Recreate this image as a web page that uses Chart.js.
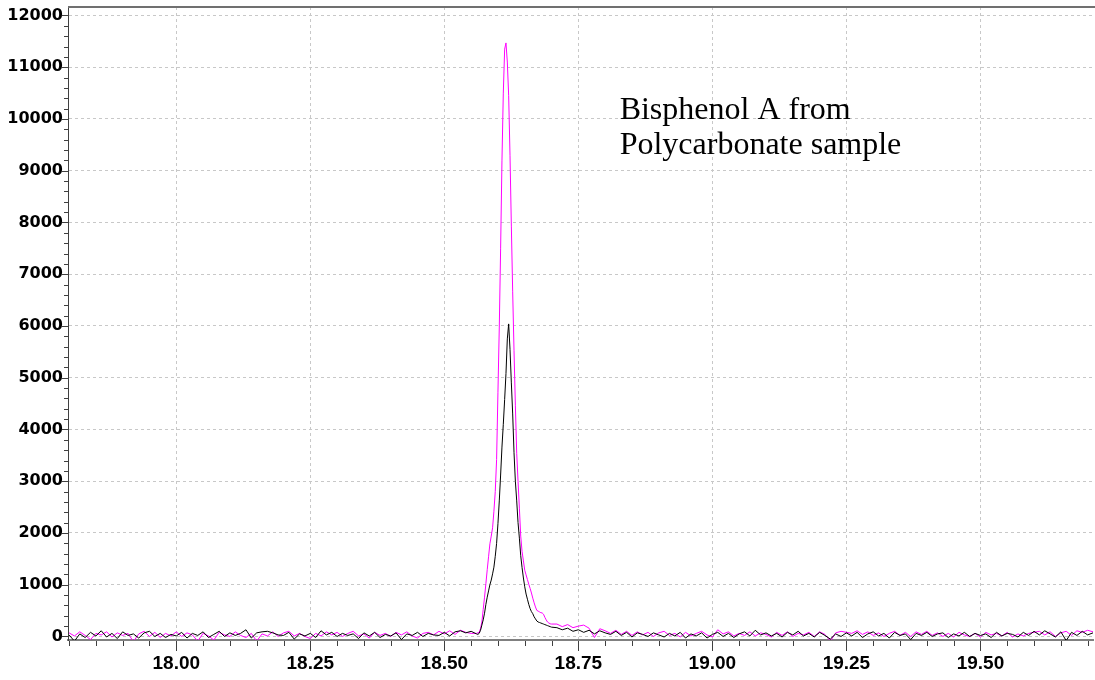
<!DOCTYPE html>
<html>
<head>
<meta charset="utf-8">
<title>Bisphenol A chromatogram</title>
<script src="https://cdn.jsdelivr.net/npm/chart.js@4.4.0/dist/chart.umd.min.js"></script>
<style>
  html, body { margin: 0; padding: 0; background: #fff; }
  canvas { display: block; }
</style>
</head>
<body>
<canvas id="chrom" width="1095" height="680"></canvas>
<script>
// retention times (min)
const times = [
  17.80, 17.81, 17.82, 17.83, 17.84, 17.85, 17.86, 17.87, 17.88, 17.89,
  17.90, 17.91, 17.92, 17.93, 17.94, 17.95, 17.96, 17.97, 17.98, 17.99,
  18.00, 18.01, 18.02, 18.03, 18.04, 18.05, 18.06, 18.07, 18.08, 18.09,
  18.10, 18.11, 18.12, 18.13, 18.14, 18.15, 18.16, 18.17, 18.18, 18.19,
  18.20, 18.21, 18.22, 18.23, 18.24, 18.25, 18.26, 18.27, 18.28, 18.29,
  18.30, 18.31, 18.32, 18.33, 18.34, 18.35, 18.36, 18.37, 18.38, 18.39,
  18.40, 18.41, 18.42, 18.43, 18.44, 18.45, 18.46, 18.47, 18.48, 18.49,
  18.50, 18.51, 18.52, 18.53, 18.54, 18.55,
  // peak region, finer
  18.5600, 18.5625, 18.5650, 18.5675, 18.5700, 18.5725, 18.5750, 18.5775, 18.5800, 18.5825,
  18.5850, 18.5875, 18.5900, 18.5925, 18.5950, 18.5975, 18.6000, 18.6025, 18.6050, 18.6075,
  18.6100, 18.6125, 18.6150, 18.6175, 18.6200, 18.6225, 18.6250, 18.6275, 18.6300, 18.6325,
  18.6350, 18.6375, 18.6400, 18.6425, 18.6450, 18.6475, 18.6500, 18.6525, 18.6550, 18.6575,
  18.6600, 18.6625, 18.6650, 18.6675, 18.6700, 18.6725, 18.6750, 18.6775, 18.6800, 18.6825,
  18.6850, 18.6875, 18.6900, 18.6925, 18.6950, 18.6975, 18.7000,
  18.71, 18.72, 18.73, 18.74, 18.75, 18.76, 18.77, 18.78, 18.79, 18.80,
  18.81, 18.82, 18.83, 18.84, 18.85, 18.86, 18.87, 18.88, 18.89, 18.90,
  18.91, 18.92, 18.93, 18.94, 18.95, 18.96, 18.97, 18.98, 18.99, 19.00,
  19.01, 19.02, 19.03, 19.04, 19.05, 19.06, 19.07, 19.08, 19.09, 19.10,
  19.11, 19.12, 19.13, 19.14, 19.15, 19.16, 19.17, 19.18, 19.19, 19.20,
  19.21, 19.22, 19.23, 19.24, 19.25, 19.26, 19.27, 19.28, 19.29, 19.30,
  19.31, 19.32, 19.33, 19.34, 19.35, 19.36, 19.37, 19.38, 19.39, 19.40,
  19.41, 19.42, 19.43, 19.44, 19.45, 19.46, 19.47, 19.48, 19.49, 19.50,
  19.51, 19.52, 19.53, 19.54, 19.55, 19.56, 19.57, 19.58, 19.59, 19.60,
  19.61, 19.62, 19.63, 19.64, 19.65, 19.66, 19.67, 19.68, 19.69, 19.70,
  19.71
];

// black trace (abundance)
const blackCounts = [
  30, -90, 50, -20, 80, 10, 110, -10, 60, -40,
  90, 20, 50, -30, 70, 100, 0, 60, -20, 40,
  10, 80, -30, 60, 20, 90, -20, 40, 100, 0,
  70, 20, 60, 130, -30, 70, 90, 100, 70, 30,
  20, 80, -50, 50, 10, 60, -20, 110, 30, 80,
  0, 60, 20, 50, -40, 70, 10, 80, -20, 40,
  10, 70, -60, 50, 20, 80, 0, 60, 30, 20,
  80, 10, 90, 110, 70, 100,
  50, 40, 60, 120, 220, 320, 450, 620, 760, 880,
  1000, 1090, 1210, 1340, 1550, 1800, 2180, 2620, 3120, 3660,
  4100, 4580, 5080, 5750, 6040, 5550, 4900, 4300, 3550, 3000,
  2620, 2200, 1900, 1560, 1330, 1130, 960, 820, 720, 620,
  540, 480, 440, 380, 340, 300, 280, 270, 260, 250,
  240, 230, 220, 210, 200, 190, 180,
  170, 130, 160, 100, 130, 80, 120, 50, 110, 70,
  40, 100, 20, 80, -10, 70, 40, 0, 70, 30,
  -10, 60, 10, 80, -30, 50, 10, 70, -30, 40,
  80, 0, 60, -20, 50, 90, 10, 120, 30, 70,
  10, 60, -10, 80, 30, 100, 10, 60, -10, 80,
  20, -50, 50, 0, 70, 10, 80, -20, 50, 90,
  10, 60, -30, 80, 20, 50, -60, 60, 20, 80,
  0, 50, 70, -20, 50, 10, 80, 0, 60, 20,
  50, -20, 80, 10, 60, 40, -10, 80, 20, 100,
  30, 110, 50, -10, 90, -80, 80, 20, 100, 30,
  70
];

// magenta trace (abundance)
const magentaCounts = [
  70, 10, 90, 20, -60, 60, 30, 90, -10, 70,
  20, 60, -100, 50, 100, 0, 80, -20, 60, 10,
  90, 0, 70, 30, -90, 60, 10, -70, 80, 30,
  0, 90, 20, -20, 60, -90, 50, 10, 90, 0,
  70, 100, 10, 60, 0, -40, 60, 10, 90, 30,
  80, 0, 60, 100, 10, 50, -30, 80, 20, 60,
  0, 80, 30, 90, 10, -30, 60, 80, 30, 100,
  50, 110, 40, 120, 80, 60,
  60, 70, 80, 150, 280, 520, 760, 1020, 1290, 1540,
  1790, 1940, 2100, 2420, 2800, 3420, 4720, 5980, 7490, 9190,
  10500, 11350, 11470, 11100, 10450, 9300, 7930, 6660, 5520, 4470,
  3540, 3000, 2480, 1940, 1640, 1460, 1280, 1190, 1100, 1010,
  930, 840, 740, 650, 570, 505, 490, 475, 460, 455,
  430, 370, 320, 280, 260, 245, 240,
  240, 190, 230, 170, 200, 220, 160, -20, 150, 110,
  60, 120, 40, 100, 20, 90, 30, 80, 0, 70,
  100, 20, 60, -10, 80, 10, 60, 100, 30, -10,
  130, 50, 90, 10, 60, 20, 90, 10, 70, 40,
  -10, 80, 20, 90, 0, 60, 30, 80, 0, 90,
  40, -90, 70, 100, 80, 60, 110, 40, 90, 20,
  70, 0, 60, 100, 20, 80, 0, 90, 40, 100,
  20, 70, 0, 60, -10, 80, 30, 0, 60, -10,
  80, 30, 60, 10, 80, -10, 50, 10, 60, 80,
  100, 30, 90, 0, 70, 100, 20, 110, 80, 120,
  90
];

// axis labels
const xTickValues = [18.00, 18.25, 18.50, 18.75, 19.00, 19.25, 19.50];
const yTickValues = [0, 1000, 2000, 3000, 4000, 5000, 6000, 7000, 8000, 9000, 10000, 11000, 12000];
const annotationLines = ['Bisphenol A from', 'Polycarbonate sample'];

const GRID = '#c8c8c8';
const AXIS = '#404040';

//top frame line, minor/major tick marks and the text note
const chromDecor = {
  id: 'chromDecor',
  afterDraw(chart) {
    const { ctx, chartArea: area, scales } = chart;
    const xs = scales.x;
    const ys = scales.y;
    ctx.save();
    ctx.strokeStyle = '#707070';
    ctx.lineWidth = 2;
    ctx.beginPath();
    ctx.moveTo(area.left, area.top);
    ctx.lineTo(area.right + 2, area.top);
    ctx.stroke();

    ctx.strokeStyle = AXIS;
    ctx.lineWidth = 1;
    ctx.beginPath();
    // x ticks every 0.05, major every 0.25
    for (let k = Math.ceil(xs.min / 0.05 - 1e-6); k * 0.05 <= xs.max + 1e-6; k++) {
      const px = Math.round(xs.getPixelForValue(k * 0.05)) + 0.5;
      const len = k % 5 === 0 ? 10 : 5;
      ctx.moveTo(px, area.bottom + 1);
      ctx.lineTo(px, area.bottom + 1 + len);
    }
    // y ticks every 200, major every 1000
    for (let k = 0; k * 200 <= ys.max; k++) {
      const py = Math.round(ys.getPixelForValue(k * 200)) + 0.5;
      const len = k % 5 === 0 ? 6 : 4;
      ctx.moveTo(area.left - len, py);
      ctx.lineTo(area.left, py);
    }
    ctx.stroke();

    ctx.fillStyle = '#000';
    ctx.font = '32px "Liberation Serif", "Times New Roman", serif';
    ctx.textBaseline = 'alphabetic';
    ctx.textAlign = 'left';
    const tx = xs.getPixelForValue(18.827);
    const ty = ys.getPixelForValue(10000);
    annotationLines.forEach((line, i) => ctx.fillText(line, tx, ty + i * 35));
    ctx.restore();
  },
};

const ctx = document.getElementById('chrom');
const chromChart = new Chart(ctx, {
  type: 'line',
  data: {
    datasets: [
      {
        label: 'black',
        data: times.map((t, i) => ({ x: t, y: blackCounts[i] })),
        borderColor: '#000000',
        borderWidth: 1,
        pointRadius: 0,
        tension: 0,
      },
      {
        label: 'magenta',
        data: times.map((t, i) => ({ x: t, y: magentaCounts[i] })),
        borderColor: '#ff00ff',
        borderWidth: 1,
        pointRadius: 0,
        tension: 0,
      },
    ],
  },
  options: {
    responsive: false,
    animation: false,
    layout: { padding: { top: 7, right: 2, left: 0, bottom: 0 } },
    plugins: {
      legend: { display: false },
      tooltip: { enabled: false },
    },
    scales: {
      x: {
        type: 'linear',
        min: 17.798,
        max: 19.71,
        afterBuildTicks: (scale) => {
          scale.ticks = xTickValues.map((v) => ({ value: v }));
        },
        afterFit: (scale) => {
          scale.height = 40;
          scale.paddingLeft = 0;
          scale.paddingRight = 0;
        },
        ticks: {
          callback: (v) => Number(v).toFixed(2),
          font: { family: 'Liberation Sans', weight: 'bold', size: 19 },
          color: '#000',
          padding: 12,
          maxRotation: 0,
          autoSkip: false,
        },
        grid: { color: GRID, lineWidth: 1, drawTicks: false },
        border: { color: '#808080', width: 2, dash: [3, 3] },
      },
      y: {
        min: -68,
        max: 12164,
        afterBuildTicks: (scale) => {
          scale.ticks = yTickValues.map((v) => ({ value: v }));
        },
        afterFit: (scale) => {
          scale.width = 68;
          scale.paddingTop = 0;
          scale.paddingBottom = 0;
        },
        ticks: {
          callback: (v) => String(v),
          font: { family: 'DejaVu Sans', weight: 'bold', size: 16 },
          color: '#000',
          padding: 5,
          autoSkip: false,
        },
        grid: { color: GRID, lineWidth: 1, drawTicks: false },
        border: { color: AXIS, width: 1, dash: [3, 3] },
      },
    },
  },
  plugins: [chromDecor],
});
</script>
</body>
</html>
